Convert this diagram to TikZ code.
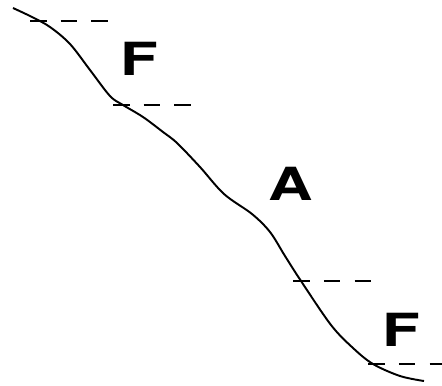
\documentclass[tikz,border=0pt]{standalone}
\usepackage{fontspec}
\setmainfont{TeX Gyre Heros}
\usepackage{tikz}
\usetikzlibrary{positioning, calc}

\tikzset{
    level/.style={line width=0.9pt, dash pattern=on 9.5pt off 8pt},
    zone/.style={font=\bfseries\fontsize{26}{26}\selectfont, inner sep=0pt}
}

\begin{document}
\begin{tikzpicture}[x=0.02cm, y=-0.02cm, line width=1.1pt]
    \useasboundingbox (0,0) rectangle (442,385);

    % Ends of the levels
    \coordinate (l1a) at (30,21);  \coordinate (l1b) at (112,21);
    \coordinate (l2a) at (113,105); \coordinate (l2b) at (196,105);
    \coordinate (l3a) at (293,281); \coordinate (l3b) at (375,281);
    \coordinate (l4a) at (368,364); \coordinate (l4b) at (445,364);

    % Curve
    \draw plot[smooth, tension=0.55] coordinates {
        (13,8) (32,17) (50,27) (70,44) (90,70) (110,96) (123,105)
        (143,117) (163,132) (177,143) (200,167) (224,194)
        (252,214) (270,232) (285,256) (301,281) (331,325) (353,348) (373,364) (400,376) (424,381)};

    % Levels
    \draw[level] (l1a) -- (l1b);
    \draw[level] (l2a) -- (l2b);
    \draw[level] (l3a) -- (l3b);
    \draw[level] (l4a) -- (l4b);

    % Labels
    \node[zone] (f1) at (139,59) {\scalebox{1.35}[1]{F}};
    \node[zone] (a) at (291,184) {\scalebox{1.35}[1]{A}};
    \node[zone] (f2) at (401,330) {\scalebox{1.35}[1]{F}};
\end{tikzpicture}
\end{document}
